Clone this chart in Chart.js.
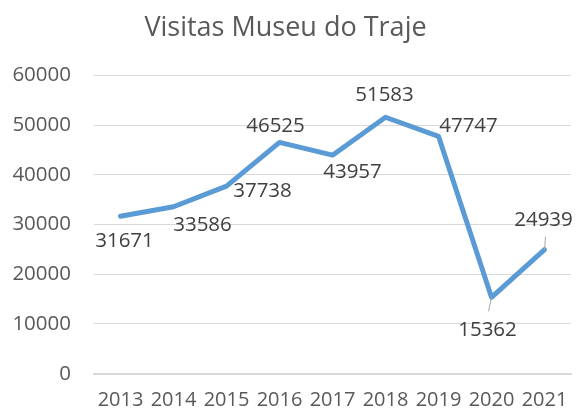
<!DOCTYPE html>
<html>
<head>
<meta charset="utf-8">
<script src="https://cdn.jsdelivr.net/npm/chart.js@4.4.1/dist/chart.umd.min.js"></script>
<style>
  body { margin: 0; background: #fff; }
  #caixa { width: 576px; height: 409px; }
</style>
</head>
<body>
<div id="caixa"><canvas id="grafico"></canvas></div>
<script>
//dados
const anos = ['2013', '2014', '2015', '2016', '2017', '2018', '2019', '2020', '2021'];
const visitas = [31671, 33586, 37738, 46525, 43957, 51583, 47747, 15362, 24939];
const titulo = 'Visitas Museu do Traje';

//onde fica cada rotulo (deslocamento a partir do ponto)
const posRotulos = [[4, 25], [29, 18], [36, 5], [-4, -16], [20, 17], [-1, -22], [30, -10], [-4, 33], [-1, -30]];
const linhasGuia = { 7: [-3, 14], 8: [1, -13] };

const fonte = '"Open Sans", "DejaVu Sans", sans-serif';

const rotulos = {
    id: 'rotulos',
    afterDatasetsDraw(chart) {
        const c = chart.ctx;
        const meta = chart.getDatasetMeta(0);
        c.save();
        meta.data.forEach((pt, i) => {
            const g = linhasGuia[i];
            if (g) {
                c.strokeStyle = '#a6a6a6';
                c.lineWidth = 1;
                c.beginPath();
                c.moveTo(pt.x, pt.y);
                c.lineTo(pt.x + g[0], pt.y + g[1]);
                c.stroke();
            }
            c.fillStyle = '#404040';
            c.font = '20.5px ' + fonte;
            c.textAlign = 'center';
            c.textBaseline = 'middle';
            c.fillText(String(visitas[i]), pt.x + posRotulos[i][0], pt.y + posRotulos[i][1]);
        });
        c.restore();
    }
};

const ctx = document.getElementById('grafico').getContext('2d');
const grafico = new Chart(ctx, {
    type: 'line',
    data: {
        labels: anos,
        datasets: [{
            data: visitas,
            borderColor: '#5b9bd5',
            borderWidth: 5,
            pointRadius: 0,
            tension: 0,
            fill: false,
            borderCapStyle: 'round',
            borderJoinStyle: 'round'
        }]
    },
    options: {
        responsive: true,
        maintainAspectRatio: false,
        animation: false,
        layout: { padding: { left: 0, right: 5, top: 0, bottom: 0 } },
        plugins: {
            legend: { display: false },
            tooltip: { enabled: false },
            title: {
                display: true,
                text: titulo,
                color: '#595959',
                font: { family: fonte, size: 27, weight: 'normal' },
                padding: { top: 12, bottom: 31 }
            }
        },
        scales: {
            x: {
                offset: true,
                grid: { display: false, drawTicks: false },
                border: { display: true, color: '#d9d9d9', width: 2 },
                ticks: { color: '#595959', padding: 15, font: { family: fonte, size: 20 }, maxRotation: 0, autoSkip: false },
                afterFit: s => { s.height = 35; s.paddingLeft = 0; s.paddingRight = 0; }
            },
            y: {
                min: 0,
                max: 60000,
                grid: { color: '#d9d9d9', lineWidth: 1, drawTicks: false },
                border: { display: false },
                ticks: {
                    stepSize: 10000,
                    color: '#595959',
                    padding: 23,
                    font: { family: fonte, size: 20.5 },
                    callback: v => String(v)
                },
                afterFit: s => { s.width = 94; }
            }
        }
    },
    plugins: [rotulos]
});
</script>
</body>
</html>
